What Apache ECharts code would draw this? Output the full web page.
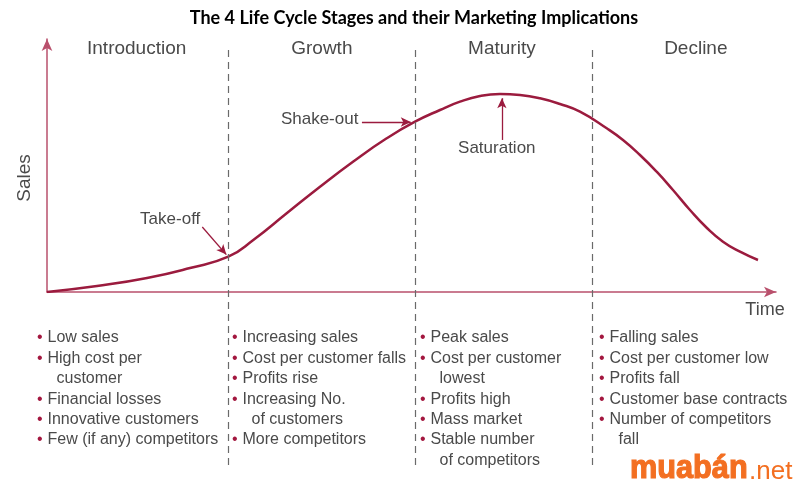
<!DOCTYPE html>
<html>
<head>
<meta charset="utf-8">
<script src="https://cdn.jsdelivr.net/npm/echarts@6/dist/echarts.min.js"></script>
<style>html,body{margin:0;padding:0;background:#fff;}#c{width:800px;height:479px;}</style>
</head>
<body>
<div id="c"></div>
<script>
// ---- data ----
const titleText = 'The 4 Life Cycle Stages and their Marketing Implications';
const stages = ['Introduction', 'Growth', 'Maturity', 'Decline'];
const stageBoundaries = [24.87, 50.48, 74.8];
const stageLabelX = [12.3, 37.7, 62.4, 89.0];
const stageLabelY = 96;
const timeX = [0, 6.86, 13.72, 19.62, 24.87, 28.3, 32.88, 37.45, 42.02, 46.6, 50.48, 53.91, 56.65, 59.4, 62.14, 64.88, 67.63, 70.37, 73.11, 76.78, 79.01, 81.34, 83.63, 85.87, 88.2, 90.49, 92.73, 95.06, 97.53];
const salesY = [0, 2.37, 5.53, 9.49, 13.95, 20.55, 31.11, 41.62, 51.6, 60.75, 67.31, 71.94, 75.22, 77.47, 78.26, 77.87, 76.56, 74.31, 71.26, 64.7, 60.08, 54.15, 47.55, 40.32, 32.41, 25.4, 19.88, 15.93, 12.65];
const annotations = ['Take-off', 'Shake-out', 'Saturation'];
const annotationLabelPos = [[16.9, 28.9], [37.4, 68.4], [61.7, 56.9]];
const annotationArrowFrom = [[21.3, 25.7], [43.2, 67.2], [62.4, 60.1]];
const annotationArrowTo = [[24.6, 14.8], [49.9, 67.2], [62.4, 76.6]];
const col1 = ['Low sales', 'High cost per\ncustomer', 'Financial losses', 'Innovative customers', 'Few (if any) competitors'];
const col2 = ['Increasing sales', 'Cost per customer falls', 'Profits rise', 'Increasing No.\nof customers', 'More competitors'];
const col3 = ['Peak sales', 'Cost per customer\nlowest', 'Profits high', 'Mass market', 'Stable number\nof competitors'];
const col4 = ['Falling sales', 'Cost per customer low', 'Profits fall', 'Customer base contracts', 'Number of competitors\nfall'];
const watermarkMain = 'muabán';
const watermarkTld = '.net';

// ---- layout / style ----
const colLeft = [37, 232, 420, 599];
const listTop = 330;
const textColor = '#4a4a4a';
const curveColor = '#9b1b3e';
const axisColor = '#b9506c';
const orange = '#f36f21';
const FONT = 'Liberation Sans, Arial, sans-serif';

const chart = echarts.init(document.getElementById('c'));

function bulletText(items) {
  const lines = [];
  items.forEach(it => {
    it.split('\n').forEach((ln, i) => {
      lines.push(i === 0 ? '{b|\u2022}{t|' + ln + '}' : '{c|' + ln + '}');
    });
  });
  return lines.join('\n');
}
const richStyle = {
  b: { fill: '#a3173f', fontSize: 16, width: 10.5, lineHeight: 20.4, fontFamily: FONT },
  t: { fill: textColor, fontSize: 16, lineHeight: 20.4, fontFamily: FONT },
  c: { fill: textColor, fontSize: 16, lineHeight: 20.4, fontFamily: FONT, padding: [0, 0, 0, 19.5] }
};
const cols = [col1, col2, col3, col4];

const markPoints = [];
stages.forEach((s, i) => markPoints.push({
  name: s, coord: [stageLabelX[i], stageLabelY],
  label: { fontSize: 19 }
}));
annotations.forEach((s, i) => markPoints.push({
  name: s, coord: annotationLabelPos[i],
  label: { fontSize: 17 }
}));

const arrows = annotations.map((s, i) => [
  { coord: annotationArrowFrom[i] },
  { coord: annotationArrowTo[i] }
]);

const option = {
  animation: false,
  title: {
    text: titleText, left: 409, top: 4, textAlign: 'center',
    textStyle: { fontFamily: 'Lato, sans-serif', fontWeight: 'bold', fontSize: 18, color: '#000' }
  },
  grid: [
    { left: 47, right: 24, top: 39, bottom: 187 },
    { left: 47, right: 24, top: 45, bottom: 14 }
  ],
  xAxis: [
    {
      gridIndex: 0, type: 'value', min: 0, max: 100,
      axisLine: { show: true, onZero: false, lineStyle: { color: axisColor, width: 1.5 }, symbol: ['none', 'arrow'], symbolSize: [8, 12] },
      axisTick: { show: false }, axisLabel: { show: false }, splitLine: { show: false }
    },
    { gridIndex: 1, type: 'value', min: 0, max: 100, show: false }
  ],
  yAxis: [
    {
      gridIndex: 0, type: 'value', min: 0, max: 100,
      axisLine: { show: true, lineStyle: { color: axisColor, width: 1.5 }, symbol: ['none', 'arrow'], symbolSize: [8, 12] },
      axisTick: { show: false }, axisLabel: { show: false }, splitLine: { show: false }
    },
    { gridIndex: 1, type: 'value', min: 0, max: 1, show: false }
  ],
  series: [
    {
      type: 'line', xAxisIndex: 1, yAxisIndex: 1, silent: true,
      data: [[0, 0], [100, 0]], symbol: 'none', lineStyle: { opacity: 0 },
      markLine: {
        silent: true, symbol: ['none', 'none'],
        lineStyle: { type: [7, 5], color: '#6a6a6a', width: 1.2 },
        label: { show: false },
        data: stageBoundaries.map(v => ({ xAxis: v }))
      }
    },
    {
      type: 'line', xAxisIndex: 0, yAxisIndex: 0,
      data: timeX.map((x, i) => [x, salesY[i]]),
      smooth: 0.5, symbol: 'none',
      lineStyle: { color: curveColor, width: 2.5 },
      markLine: {
        silent: true, symbol: ['none', 'arrow'], symbolSize: [7, 10],
        lineStyle: { type: 'solid', color: curveColor, width: 1.3 },
        label: { show: false },
        data: arrows
      },
      markPoint: {
        silent: true, symbol: 'circle', symbolSize: 1,
        itemStyle: { color: 'transparent' },
        label: { show: true, position: 'inside', formatter: '{b}', color: textColor, fontFamily: FONT },
        data: markPoints
      }
    }
  ],
  graphic: [
    ...cols.map((c, i) => ({
      type: 'text', left: colLeft[i], top: listTop, silent: true,
      style: { text: bulletText(c), rich: richStyle, fontFamily: FONT, fontSize: 16, fill: textColor }
    })),
    {
      type: 'text', x: 25, y: 178, rotation: Math.PI / 2, silent: true,
      style: { text: 'Sales', fill: textColor, font: '19px ' + FONT, align: 'center', verticalAlign: 'middle' }
    },
    {
      type: 'text', x: 765, y: 310, silent: true,
      style: { text: 'Time', fill: textColor, font: '18px ' + FONT, align: 'center', verticalAlign: 'middle' }
    },
    {
      type: 'text', x: 630, y: 469, scaleX: 0.93, silent: true,
      style: { text: watermarkMain, fill: orange, stroke: orange, lineWidth: 1.2, font: 'bold 33px ' + FONT, align: 'left', verticalAlign: 'middle' }
    },
    {
      type: 'text', x: 749, y: 471.5, silent: true,
      style: { text: watermarkTld, fill: orange, font: '26px ' + FONT, align: 'left', verticalAlign: 'middle' }
    }
  ]
};
chart.setOption(option);
</script>
</body>
</html>
